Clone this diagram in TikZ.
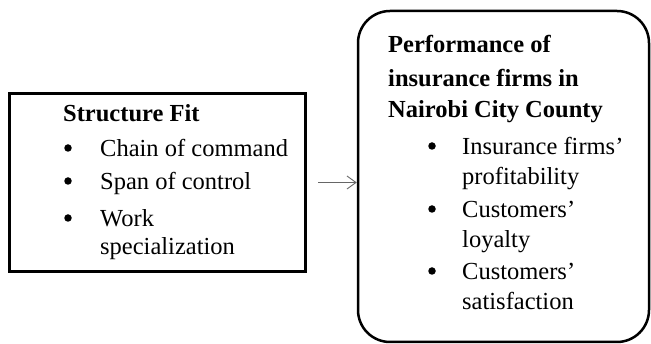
\documentclass[tikz,border=0pt]{standalone}
\usepackage{fontspec}
\setmainfont{Liberation Serif}
\usetikzlibrary{positioning,arrows.meta}

\begin{document}
\begin{tikzpicture}[x=1pt,y=-1pt,
	frame/.style={draw,line width=3pt,minimum width=296pt,minimum height=178pt,inner sep=0pt},
	roundframe/.style={draw,line width=2.5pt,rounded corners=32pt,minimum width=291pt,minimum height=331pt,inner sep=0pt},
	txt/.style={anchor=base west,inner sep=0pt,font=\fontsize{24.5}{28}\selectfont},
	head/.style={txt,font=\fontsize{24.5}{28}\selectfont\bfseries},
	dot/.style={circle,fill,inner sep=0pt,minimum size=7.5pt},
	flow/.style={-{Straight Barb[length=9pt,width=13pt,line width=0.9pt]},line width=1pt,gray!80!black}]
	\useasboundingbox (0,0) rectangle (651,344);

	% the two boxes
	\node[frame] (fit) at (157.5,182.5) {};
	\node[roundframe] (perf) at (503.5,176.5) {};

	% left box
	\node[head] (fit-h) at (63,122) {Structure Fit};
	\foreach \y/\t [count=\i] in {157/Chain of command,190/Span of control,227/Work} {
		\node[dot] (fit-b\i) at (68,\y-9) {};
		\node[txt] (fit-t\i) at (100,\y) {\t};
	}
	\node[txt] (fit-t4) at (100,255) {specialization};

	% right box
	\node[head] (perf-h1) at (388,53) {Performance of};
	\node[head] (perf-h2) at (388,87) {insurance firms in};
	\node[head] (perf-h3) at (388,118) {Nairobi City County};
	\foreach \y/\a/\b [count=\i] in {155/Insurance firms'/profitability,218/Customers'/loyalty,280/Customers'/satisfaction} {
		\node[dot] (perf-b\i) at (432,\y-9) {};
		\node[txt] (perf-a\i) at (462,\y) {\a};
		\node[txt] (perf-c\i) at (462,\y+30) {\b};
	}

	\draw[flow,shorten <=11pt] (fit.east) -- (fit.east -| perf.west);
\end{tikzpicture}
\end{document}
